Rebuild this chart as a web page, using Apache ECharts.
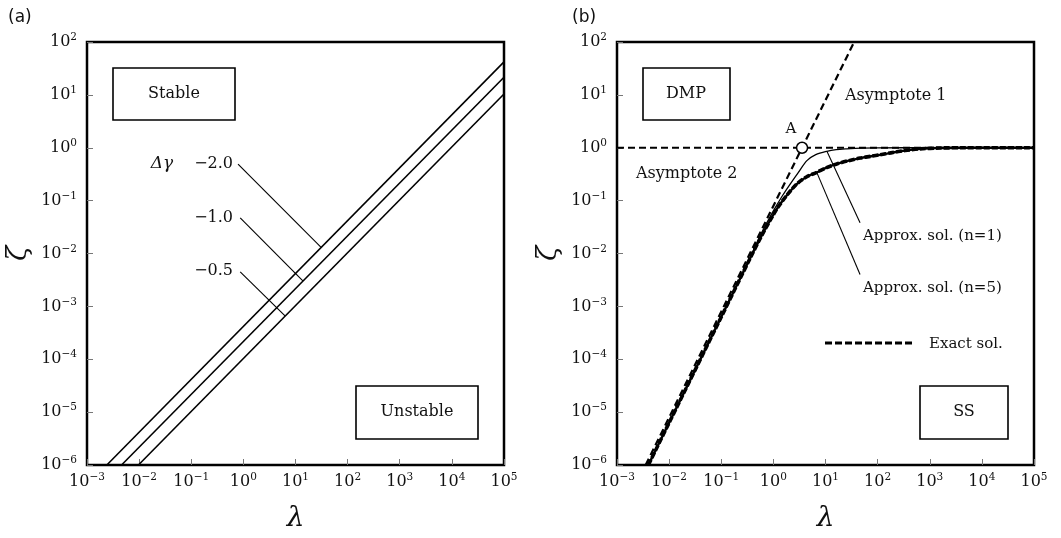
<!DOCTYPE html>
<html>
<head>
<meta charset="utf-8">
<title>zeta vs lambda</title>
<script src="https://cdn.jsdelivr.net/npm/echarts@6.0.0/dist/echarts.min.js"></script>
<style>
  html, body { margin: 0; padding: 0; background: #fff; }
  #chart { width: 1061px; height: 538px; }
</style>
</head>
<body>
<div id="chart"></div>
<script>
// tick exponents (labels are 10^e)
const xTickExps = [-3, -2, -1, 0, 1, 2, 3, 4, 5]
const yTickExps = [-6, -5, -4, -3, -2, -1, 0, 1, 2]

// panel (a): three parallel lines for delta gamma, [lambda, zeta]
const dgLabels = ['−2.0', '−1.0', '−0.5']
const lineDg20 = [[0.0024, 1e-6], [1e5, 42]]
const lineDg10 = [[0.0046, 1e-6], [1e5, 21.6]]
const lineDg05 = [[0.0097, 1e-6], [1e5, 10.4]]
// leader lines from the labels to the lines
const leadDg20 = [[0.79, 0.49], [31, 0.013]]
const leadDg10 = [[0.87, 0.047], [14, 0.003]]
const leadDg05 = [[0.87, 0.0045], [6.3, 0.00066]]

// panel (b)
const asym1 = [[0.00355, 1e-6], [35.5, 100]]
const asym2 = [[1e-3, 1], [1e5, 1]]
const pointA = [[3.55, 1]]
const approx1 = [
  [0.004, 1e-6], [0.01, 6.4e-6], [0.1, 6.4e-4], [0.36, 0.0085], [0.6, 0.025],
  [1.0, 0.064], [1.5, 0.125], [2.1, 0.206], [3.0, 0.34], [4.4, 0.57],
  [6.5, 0.74], [10.6, 0.857], [16, 0.92], [25.6, 0.953], [50, 0.985],
  [100, 0.997], [1000, 1], [1e5, 1]
]
const approx5 = [
  [0.004, 1e-6], [0.01, 6.3e-6], [0.1, 6.3e-4], [0.36, 0.0082], [0.6, 0.022],
  [1.16, 0.069], [1.8, 0.125], [2.81, 0.206], [4.3, 0.28], [6.8, 0.342],
  [10.5, 0.42], [16.5, 0.494], [28, 0.57], [46, 0.637], [75, 0.69],
  [112, 0.736], [180, 0.8], [270, 0.857], [420, 0.91], [655, 0.953],
  [1585, 0.99], [5000, 1], [1e5, 1]
]
const exact = [
  [0.004, 1e-6], [0.01, 6.3e-6], [0.1, 6.3e-4], [0.36, 0.0082], [0.6, 0.022],
  [1.16, 0.069], [1.8, 0.125], [2.81, 0.206], [4.3, 0.28], [6.8, 0.342],
  [10.5, 0.42], [16.5, 0.494], [28, 0.57], [46, 0.637], [75, 0.69],
  [112, 0.736], [180, 0.8], [270, 0.857], [420, 0.91], [655, 0.953],
  [1585, 0.99], [5000, 1], [1e5, 1]
]
const leadN1 = [[10.7, 0.85], [46, 0.038]]
const leadN5 = [[6.8, 0.342], [46, 0.004]]

const SERIF = "'DejaVu Serif', serif"

function powLabel(v) {
  const e = Math.round(Math.log10(v))
  return '{b|10}{s|' + (e < 0 ? '−' + (-e) : e) + '}'
}
const labelRich = {
  b: { fontSize: 16, fontFamily: SERIF, color: '#111' },
  s: { fontSize: 10.5, fontFamily: SERIF, color: '#111', padding: [0, 0, 9, 0] }
}

function xAxisOf(gi) {
  return {
    type: 'log', logBase: 10, gridIndex: gi,
    min: Math.pow(10, xTickExps[0]), max: Math.pow(10, xTickExps[xTickExps.length - 1]),
    splitNumber: xTickExps.length - 1,
    name: 'λ', nameLocation: 'middle', nameGap: 40,
    nameTextStyle: { fontSize: 28, fontStyle: 'italic', fontFamily: SERIF, color: '#111' },
    axisLine: { show: false },
    axisTick: { inside: true, length: 6, lineStyle: { color: '#777', width: 1 } },
    minorTick: { show: false },
    splitLine: { show: false },
    axisLabel: { margin: 7, formatter: powLabel, rich: labelRich, showMinLabel: true, showMaxLabel: true }
  }
}
function yAxisOf(gi) {
  return {
    type: 'log', logBase: 10, gridIndex: gi,
    min: Math.pow(10, yTickExps[0]), max: Math.pow(10, yTickExps[yTickExps.length - 1]),
    splitNumber: yTickExps.length - 1,
    name: 'ζ', nameLocation: 'middle', nameGap: 54, nameRotate: 90,
    nameTextStyle: { fontSize: 28, fontStyle: 'italic', fontFamily: SERIF, color: '#111' },
    axisLine: { show: false },
    axisTick: { inside: true, length: 6, lineStyle: { color: '#777', width: 1 } },
    splitLine: { show: false },
    axisLabel: { margin: 10, formatter: powLabel, rich: labelRich, showMinLabel: true, showMaxLabel: true }
  }
}

function lineSeries(data, gi, width, type, smooth) {
  return {
    type: 'line', xAxisIndex: gi, yAxisIndex: gi, data: data,
    showSymbol: false, symbol: 'none', smooth: smooth || false,
    lineStyle: { color: '#000', width: width, type: type || 'solid' },
    silent: true, animation: false
  }
}

function txt(x, y, s, opt) {
  return {
    type: 'text', x: x, y: y, silent: true,
    style: Object.assign({ text: s, fill: '#111', font: '15px ' + SERIF, textAlign: 'left', textVerticalAlign: 'middle' }, opt || {})
  }
}
function box(x, y, w, h) {
  return { type: 'rect', shape: { x: x, y: y, width: w, height: h }, style: { fill: 'transparent', stroke: '#000', lineWidth: 1.6 }, silent: true }
}

const chart = echarts.init(document.getElementById('chart'))
const option = {
  animation: false,
  backgroundColor: '#fff',
  grid: [
    { left: 87, top: 42, width: 417, height: 423, show: true, borderColor: '#000', borderWidth: 2.5, backgroundColor: 'transparent' },
    { left: 617, top: 42, width: 417, height: 423, show: true, borderColor: '#000', borderWidth: 2.5, backgroundColor: 'transparent' }
  ],
  xAxis: [xAxisOf(0), xAxisOf(1)],
  yAxis: [yAxisOf(0), yAxisOf(1)],
  series: [
    lineSeries(lineDg20, 0, 1.6),
    lineSeries(lineDg10, 0, 1.6),
    lineSeries(lineDg05, 0, 1.6),
    lineSeries(leadDg20, 0, 1.1),
    lineSeries(leadDg10, 0, 1.1),
    lineSeries(leadDg05, 0, 1.1),

    lineSeries(asym1, 1, 2.2, [7, 4]),
    lineSeries(asym2, 1, 2, [7, 4]),
    lineSeries(approx1, 1, 1.3, 'solid', 0.3),
    lineSeries(approx5, 1, 2.4, 'solid', 0.3),
    lineSeries(exact, 1, 3.6, [6, 2], 0.3),
    lineSeries(leadN1, 1, 1.1),
    lineSeries(leadN5, 1, 1.1),
    {
      type: 'scatter', xAxisIndex: 1, yAxisIndex: 1, data: pointA,
      symbol: 'circle', symbolSize: 11, silent: true,
      itemStyle: { color: '#fff', opacity: 1, borderColor: '#000', borderWidth: 1.5 }, z: 5
    }
  ],
  graphic: [
    txt(8, 18, '(a)', { font: '17px "DejaVu Sans", sans-serif' }),
    txt(572, 18, '(b)', { font: '17px "DejaVu Sans", sans-serif' }),

    box(113, 68, 122, 52), txt(174, 94, 'Stable', { textAlign: 'center', font: '16px ' + SERIF }),
    box(356, 386, 122, 53), txt(417, 412, 'Unstable', { textAlign: 'center', font: '16px ' + SERIF }),
    txt(162, 164, 'Δγ', { textAlign: 'center', font: 'italic 17px ' + SERIF }),
    txt(233, 164, dgLabels[0], { textAlign: 'right', font: '16px ' + SERIF }),
    txt(233, 218, dgLabels[1], { textAlign: 'right', font: '16px ' + SERIF }),
    txt(233, 271, dgLabels[2], { textAlign: 'right', font: '16px ' + SERIF }),

    box(643, 68, 87, 52), txt(686, 94, 'DMP', { textAlign: 'center', font: '16px ' + SERIF }),
    box(920, 386, 88, 53), txt(964, 412, 'SS', { textAlign: 'center', font: '16px ' + SERIF }),
    txt(791, 129, 'A', { textAlign: 'center', font: '15px ' + SERIF }),
    txt(845, 96, 'Asymptote 1', { font: '16px ' + SERIF }),
    txt(636, 174, 'Asymptote 2', { font: '16px ' + SERIF }),
    txt(863, 236, 'Approx. sol. (n=1)', { font: '15px ' + SERIF }),
    txt(863, 288, 'Approx. sol. (n=5)', { font: '15px ' + SERIF }),
    {
      type: 'line', shape: { x1: 825, y1: 343, x2: 912, y2: 343 }, silent: true,
      style: { stroke: '#000', lineWidth: 3, lineDash: [7, 3] }
    },
    txt(929, 344, 'Exact sol.', { font: '15px ' + SERIF })
  ]
}
chart.setOption(option)
</script>
</body>
</html>
